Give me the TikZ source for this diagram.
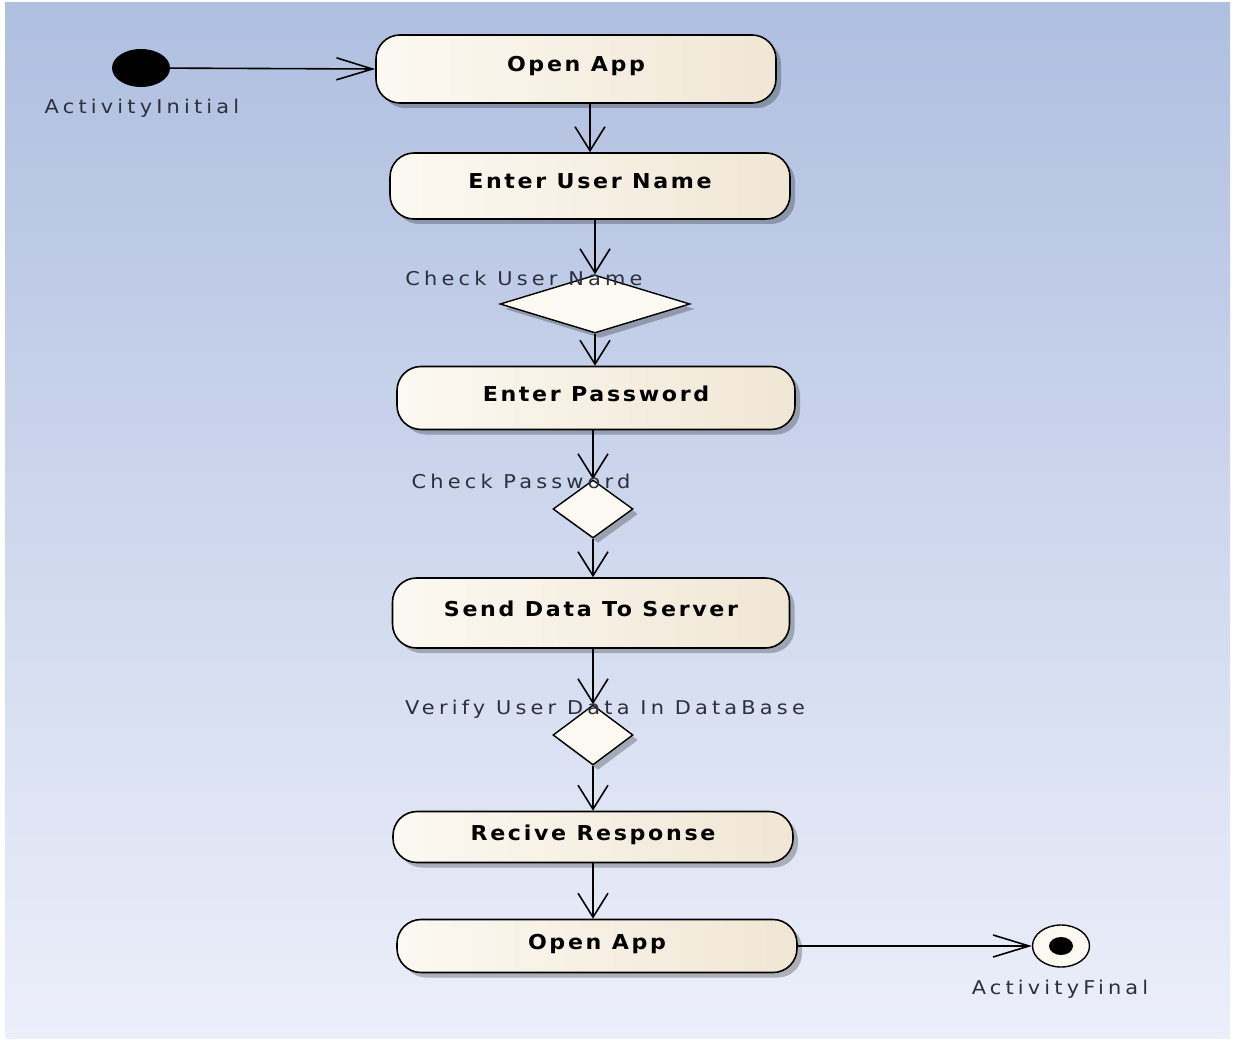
\documentclass[tikz,border=0pt]{standalone}
\usepackage{fontspec}
\setmainfont{DejaVu Sans}
\newfontfamily\boxfont[LetterSpace=13,FakeStretch=1.08]{DejaVu Sans}
\newfontfamily\lblfont[LetterSpace=22,FakeStretch=1.1]{DejaVu Sans}
\usetikzlibrary{shapes.geometric,arrows.meta,shadows,calc}
\definecolor{bgTop}{RGB}{175,191,224}
\definecolor{bgBot}{RGB}{236,239,250}
\definecolor{boxL}{RGB}{252,249,242}
\definecolor{boxR}{RGB}{240,230,212}
\definecolor{lblc}{RGB}{45,48,60}
\newcommand\acttxt[1]{\raisebox{-3pt}[0pt][0pt]{#1}}
\begin{document}
\begin{tikzpicture}[x=1pt,y=-1pt,
  shad/.style={drop shadow={shadow xshift=5pt,shadow yshift=-5pt,fill=black,opacity=.25}},
  act/.style={draw=black,line width=1.6pt,rounded corners=24pt,minimum width=400pt,
    left color=boxL,right color=boxR,shad,inner sep=0pt,
    font=\boxfont\bfseries\fontsize{20.5}{24}\selectfont},
  dec/.style={diamond,draw=black,line width=1.4pt,fill=boxL,inner sep=0pt,shad},
  lbl/.style={font=\lblfont\fontsize{19}{22}\selectfont,text=lblc,inner sep=0pt},
  arr/.style={draw=black,line width=1.6pt,-{Straight Barb[length=24pt,width=30pt]}},
  harr/.style={draw=black,line width=1.6pt,-{Straight Barb[length=36pt,width=22pt]}}
]
\useasboundingbox (0,0) rectangle (1241,1040);
\fill[white] (0,0) rectangle (1241,1040);
\shade[top color=bgTop,bottom color=bgBot] (5,3) rectangle (1230,1038);

% nodes
\node[ellipse,fill=black,minimum width=58pt,minimum height=38pt,inner sep=0pt] (init) at (141,68) {};
\node[lbl] (initL) at (142,108) {ActivityInitial};

\node[act,minimum width=400pt,minimum height=68pt] (open1) at (576,69) {\acttxt{Open App}};
\node[act,minimum width=400pt,minimum height=66pt] (eun) at (590,186) {\acttxt{Enter User Name}};
\node[dec,minimum width=190pt,minimum height=58pt] (d1) at (595,304) {};
\node[act,minimum width=398pt,minimum height=63pt] (epw) at (596,398) {\acttxt{Enter Password}};
\node[dec,minimum width=80pt,minimum height=58pt] (d2) at (593,509) {};
\node[act,minimum width=397pt,minimum height=70pt] (sds) at (591,613) {\acttxt{Send Data To Server}};
\node[dec,minimum width=80pt,minimum height=60pt] (d3) at (593,735) {};
\node[act,minimum width=400pt,minimum height=51pt] (rr) at (593,837) {\acttxt{Recive Response}};
\node[act,minimum width=400pt,minimum height=53pt] (open2) at (597,946) {\acttxt{Open App}};

\node[ellipse,draw=black,line width=1.4pt,fill=boxL,minimum width=57pt,minimum height=42pt,inner sep=0pt] (final) at (1061,946) {};
\node[ellipse,fill=black,minimum width=24pt,minimum height=18pt,inner sep=0pt] (finalDot) at (final.center) {};
\node[lbl] (finalL) at (1060,989) {ActivityFinal};

% connectors
\draw[harr] (init) -- (open1.west);
\draw[arr] (open1.south -| eun.north) -- (eun.north);
\draw[arr] (eun.south -| d1.north) -- (d1.north);
\draw[arr] (d1.south) -- (epw.north -| d1.south);
\draw[arr] (epw.south -| d2.north) -- (d2.north);
\draw[arr] (d2.south) -- (sds.north -| d2.south);
\draw[arr] (sds.south -| d3.north) -- (d3.north);
\draw[arr] (d3.south) -- (rr.north -| d3.south);
\draw[arr] (rr.south) -- (open2.north -| rr.south);
\draw[harr] (open2.east) -- (final.west);

% decision labels
\node[lbl] (d1L) at (524,278) {Check User Name};
\node[lbl] (d2L) at (521,481) {Check Password};
\node[lbl] (d3L) at (605,709) {Verify User Data In DataBase};
\end{tikzpicture}
\end{document}
